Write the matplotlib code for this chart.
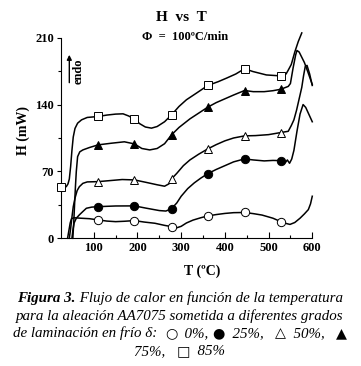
import matplotlib
matplotlib.use("Agg")
import matplotlib.pyplot as plt
from matplotlib.ticker import MultipleLocator

plt.rcParams['font.family'] = ['Liberation Serif', 'DejaVu Sans']

# curve samples (T in C, H in mW)
t_0 = [40, 43, 46, 49, 55, 70, 90, 110, 130, 150, 170, 193, 215, 240, 262, 278, 290,
       300, 312, 327, 345, 361, 380, 400, 420, 445, 465, 485, 510, 528, 540, 549, 560,
       572, 582, 591, 596, 600]
h_0 = [0, 8, 16, 20.5, 21.5, 21, 20.5, 19.2, 18, 17.4, 17.8, 18.5, 17, 15.7, 13.5, 12.2, 11,
       12.5, 16, 19, 21.5, 23.4, 24.8, 26, 26.8, 27, 25.8, 24.3, 21, 17.4, 15.5, 14.5, 16.5,
       21, 25.5, 30, 36, 44]

t_25 = [50, 52, 55, 60, 67, 75, 83, 95, 110, 150, 193, 220, 250, 265, 278, 290, 300, 315,
        330, 345, 361, 380, 400, 420, 445, 465, 490, 510, 528, 538, 543, 548, 553, 558,
        565, 572, 579, 585, 592, 600]
h_25 = [0, 8, 16, 21, 24.5, 28, 31.4, 32.6, 33.1, 33.8, 33.9, 31.5, 29, 28.5, 31, 37, 44, 52,
        58, 63, 67.7, 72, 76, 80, 83.1, 82, 81, 81.5, 81.3, 79, 82, 78.5, 83, 92,
        112, 130, 140, 137, 130, 122]

t_50 = [44, 47, 50, 53, 57, 62, 67, 75, 85, 110, 140, 165, 193, 220, 245, 262, 272, 278,
        290, 305, 320, 340, 361, 380, 400, 420, 445, 470, 500, 528, 545, 552, 558, 564,
        570, 576, 580, 584, 588, 594, 600]
h_50 = [0, 10, 22, 33, 42, 50, 54, 57.5, 59, 59.3, 60.5, 61.5, 61.1, 58.5, 56, 54.5, 57, 62.2,
        68, 76, 82, 88, 93.6, 98, 102, 105, 107.2, 107.5, 108.5, 110.7, 112, 118, 124, 134,
        146, 158, 170, 180, 181, 172, 160]

t_75 = [52, 54, 56, 58, 60, 63, 68, 75, 90, 110, 140, 170, 193, 210, 228, 245, 262, 278,
        295, 320, 340, 361, 380, 400, 420, 445, 465, 490, 510, 528, 545, 550, 556, 562,
        565, 570, 582, 590, 600]
h_75 = [0, 15, 35, 54, 70, 85.5, 90.5, 92.5, 95, 97.8, 99.5, 101, 98.8, 94, 92.5, 94, 99, 108.3,
        116, 125, 131, 137.3, 142, 146, 150, 154.7, 153.5, 153.5, 154.5, 156, 159, 162, 178, 192,
        196.6, 195, 184, 174, 161]

t_85 = [25, 30, 37, 41, 44, 47, 50, 53, 57, 63, 72, 85, 110, 130, 150, 167, 180, 193, 205,
        218, 232, 245, 262, 278, 295, 312, 335, 361, 385, 404, 425, 445, 464, 495, 528,
        540, 545, 552, 560, 568, 576]
h_85 = [53.5, 53.5, 54, 57, 62, 75, 92, 106, 115, 120.5, 124, 126.5, 127.5, 129, 130, 130.3,
        128, 124.7, 120, 116.5, 115.3, 117, 122, 129.2, 138, 145, 152, 160, 164, 167.7, 172,
        177.5, 174.6, 171, 170, 172, 176, 182, 195, 206, 215]

# marker positions
mark_t = [110, 193, 278, 361, 445, 528]
mark_0 = [19.2, 18.5, 12.2, 23.4, 27, 17.4]
mark_25 = [33.1, 33.9, 31, 67.7, 83.1, 81.3]
mark_50 = [59.3, 61.1, 62.2, 93.6, 107.2, 110.7]
mark_75 = [97.8, 98.8, 108.3, 137.3, 154.7, 156]
mark_85_t = [25, 110, 193, 278, 361, 445, 528]
mark_85 = [53.5, 127.5, 124.7, 129.2, 160, 177.5, 170]

fig = plt.figure(figsize=(3.61, 3.66), dpi=100)
ax = fig.add_axes([0.169, 0.349, 0.696, 0.548])

lw = 1.1
series = [
    (t_0, h_0, mark_t, mark_0, 'o', 'white'),
    (t_25, h_25, mark_t, mark_25, 'o', 'black'),
    (t_50, h_50, mark_t, mark_50, '^', 'white'),
    (t_75, h_75, mark_t, mark_75, '^', 'black'),
    (t_85, h_85, mark_85_t, mark_85, 's', 'white'),
]
for tx, hy, mx, my, mk, fc in series:
    ax.plot(tx, hy, color='black', lw=lw, clip_on=False, zorder=2)
    ax.plot(mx, my, linestyle='none', marker=mk, ms=6, mfc=fc, mec='black',
            mew=0.7, clip_on=False, zorder=3)

ax.set_xlim(25, 600)
ax.set_ylim(0, 210)
ax.spines['top'].set_visible(False)
ax.spines['right'].set_visible(False)
for s in ('left', 'bottom'):
    ax.spines[s].set_linewidth(0.8)

ax.set_xticks([100, 200, 300, 400, 500, 600])
ax.xaxis.set_minor_locator(MultipleLocator(50))
ax.set_yticks([0, 70, 140, 210])
ax.yaxis.set_minor_locator(MultipleLocator(35))
ax.tick_params(axis='x', which='major', direction='in', length=4, width=0.8, pad=3, labelsize=9)
ax.tick_params(axis='x', which='minor', direction='in', length=2.5, width=0.8)
ax.tick_params(axis='y', which='major', direction='out', length=3, width=0.8, pad=2, labelsize=9)
ax.tick_params(axis='y', which='minor', direction='out', length=2, width=0.8)
for lab in ax.get_xticklabels() + ax.get_yticklabels():
    lab.set_fontweight('bold')

ax.set_xlabel('T (ºC)', fontsize=10, fontweight='bold')
ax.xaxis.set_label_coords(0.56, -0.133)
ax.set_ylabel('H (mW)', fontsize=10, fontweight='bold')
ax.yaxis.set_label_coords(-0.124, 0.535)

# endo arrow
ax.annotate('', xy=(44, 195), xytext=(44, 160),
            arrowprops=dict(arrowstyle='-|>', color='black', lw=1.0, mutation_scale=7))
ax.text(66, 175, 'endo', rotation=90, ha='center', va='center', fontsize=9, fontweight='bold')

fig.text(181.7 / 361, 1 - 17.3 / 366, 'H  vs  T', ha='center', va='center',
         fontsize=11, fontweight='bold')
fig.text(185 / 361, 1 - 37.3 / 366, 'Φ  =  100ºC/min', ha='center', va='center',
         fontsize=9, fontweight='bold')

# caption, built from pieces so the symbols can use another font
cap_size = 10.8
fig.canvas.draw()
r = fig.canvas.get_renderer()
ital = dict(fontsize=cap_size, style='italic', family='Liberation Serif')
bold_ital = dict(fontsize=cap_size, style='italic', weight='bold', family='Liberation Serif')
sym = dict(fontsize=cap_size - 0.5, family='DejaVu Sans')


def caption_line(ypix, parts):
    texts = [fig.text(0, 1 - ypix / 366, s, va='baseline', **p) for s, p in parts]
    widths = [t.get_window_extent(r).width for t in texts]
    x = 180 - sum(widths) / 2
    for t, w in zip(texts, widths):
        t.set_x(x / 361)
        x += w


caption_line(302, [('Figura 3.', bold_ital),
                   (' Flujo de calor en función de la temperatura', ital)])
caption_line(320, [('para la aleación AA7075 sometida a diferentes grados', ital)])
caption_line(337.5, [('de laminación en frío δ:  ', ital), ('○', sym), ('  0%, ', ital),
                     ('●', sym), ('  25%,   ', ital), ('△', sym), ('  50%,   ', ital),
                     ('▲', sym)])
caption_line(355, [('75%,   ', ital), ('□', sym), ('  85%', ital)])

fig.savefig('out.png', dpi=100)
